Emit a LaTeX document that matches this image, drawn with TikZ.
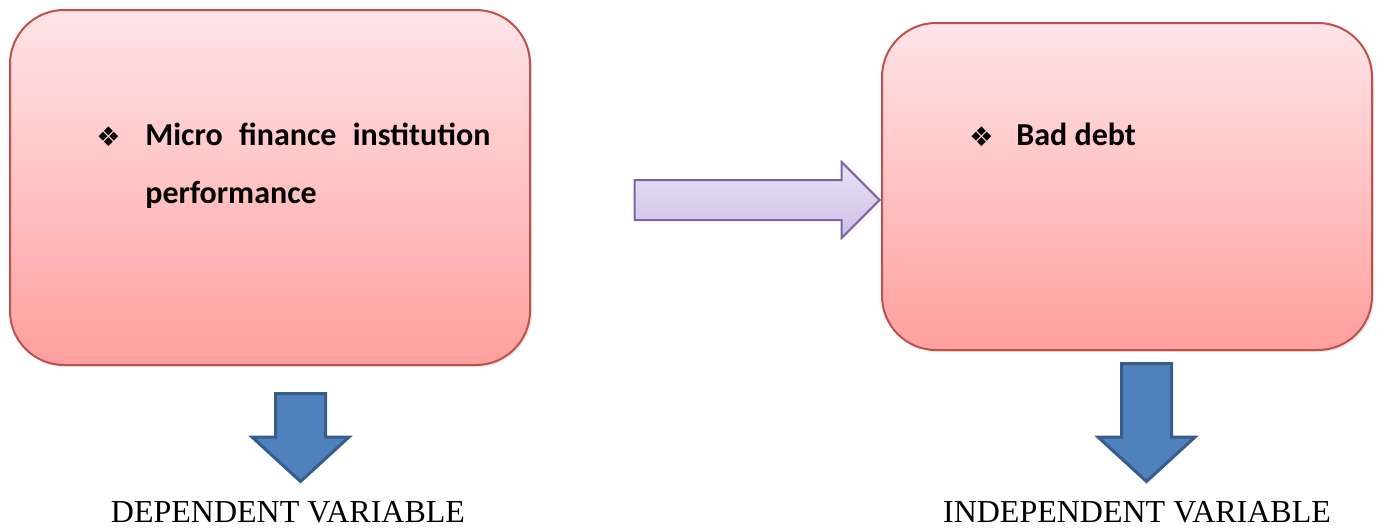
\documentclass[tikz,border=0pt]{standalone}
\usepackage{fontspec}
\setmainfont{Liberation Serif}
\newfontfamily\carlito{Carlito}
\newfontfamily\dejavu{DejaVu Sans}
\usetikzlibrary{shapes,arrows,positioning,shadows}

\definecolor{boxtop}{RGB}{255,228,231}
\definecolor{boxbot}{RGB}{255,160,158}
\definecolor{boxline}{RGB}{192,80,77}
\definecolor{lavtop}{RGB}{232,226,246}
\definecolor{lavbot}{RGB}{204,192,230}
\definecolor{lavline}{RGB}{128,100,162}
\definecolor{blockblue}{RGB}{79,129,189}
\definecolor{blockline}{RGB}{56,93,138}

\begin{document}
\begin{tikzpicture}[
    x=0.5pt, y=-0.5pt,
    varbox/.style={rectangle, draw=boxline, line width=1pt, rounded corners=27pt,
        top color=boxtop, bottom color=boxbot, inner sep=0pt,
        drop shadow={opacity=0.2, shadow xshift=1pt, shadow yshift=-1pt}},
    linkarrow/.style={single arrow, draw=lavline, line width=1pt, top color=lavtop, bottom color=lavbot,
        inner sep=0pt, text height=19pt, text depth=0pt, single arrow head extend=9pt,
        single arrow tip angle=90},
    downarrow/.style={single arrow, draw=blockline, line width=1.5pt, fill=blockblue,
        inner sep=0pt, rotate=-90, text height=23.5pt, text depth=0pt,
        single arrow head extend=11.75pt, single arrow tip angle=95, anchor=tail},
    item/.style={font=\carlito\bfseries\fontsize{16}{29}\selectfont, inner sep=0pt, anchor=base west},
    bullet/.style={font=\dejavu\fontsize{13.5}{13.5}\selectfont, inner sep=0pt, anchor=base west},
    varname/.style={font=\fontsize{16}{19}\selectfont, inner sep=0pt}
]
\useasboundingbox (0,0) rectangle (1377,531);

% Dependent side (left)
\node[varbox, minimum width=260pt, minimum height=177.5pt] (dep-box) at (270,187.5) {};
\node[bullet] (dep-bullet) at (96,146) {❖};
\node[item, text width=172.5pt, align=justify] (dep-text) at (145,145)
    {Micro finance institution performance};

\node[downarrow, minimum height=44pt] (dep-arrow) at (300.5,392) {};
\node[varname] (dep-label) at (288,512) {DEPENDENT VARIABLE};

% Independent side (right)
\node[varbox, minimum width=245pt, minimum height=163.5pt] (indep-box) at (1127,186.5) {};
\node[bullet] (indep-bullet) at (969,146) {❖};
\node[item] (indep-text) at (1016,145) {Bad debt};

\node[downarrow, minimum height=59pt] (indep-arrow) at (1146.5,362) {};
\node[varname] (indep-label) at (1137,512) {INDEPENDENT VARIABLE};

% Link between the boxes
\node[linkarrow, minimum height=122.5pt, anchor=tip] (link) at ([yshift=-6.75pt]indep-box.west) {};

\end{tikzpicture}
\end{document}
